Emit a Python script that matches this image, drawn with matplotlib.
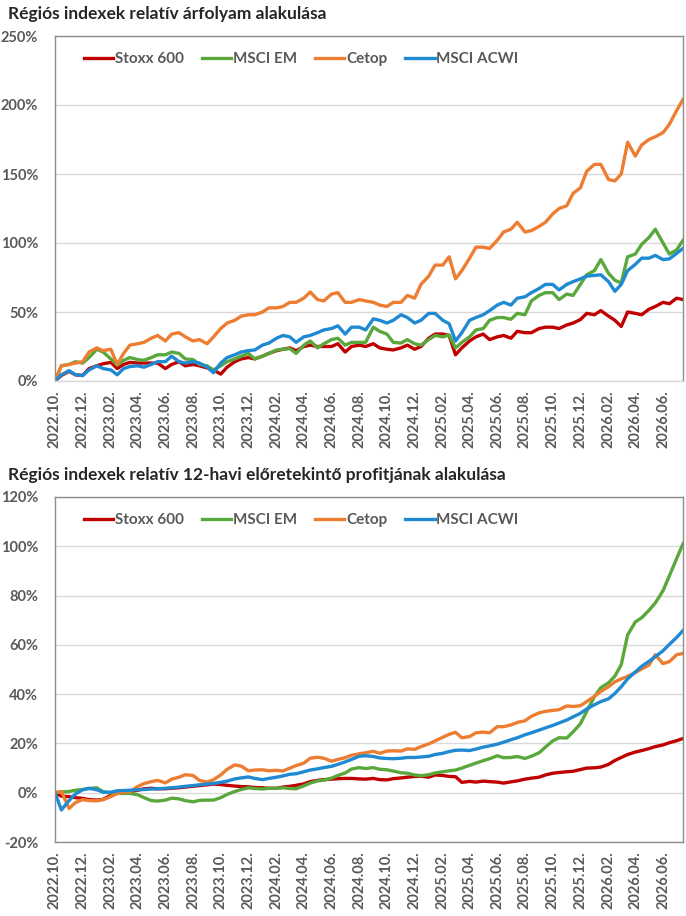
import pandas as pd
import matplotlib
matplotlib.use('Agg')
import matplotlib.pyplot as plt
import matplotlib.dates as mdates
from matplotlib.ticker import FuncFormatter, MultipleLocator

plt.rcParams['font.family'] = ['Lato', 'DejaVu Sans']

# semi-monthly observations, 2022.10 - 2026.07
dates = pd.date_range('2022-10-01', '2026-07-15', freq='SMS')

names = ['Stoxx 600', 'MSCI EM', 'Cetop', 'MSCI ACWI']
colors = ['#C00000', '#5AA83B', '#ED7D31', '#1F8AD2']

# relative price change (%)
stoxx_px = [0, 4, 7, 4.5, 4, 9, 11, 12.5, 13.5, 9,
            12, 13.5, 13, 13, 13, 13, 9, 12, 14, 11,
            12, 11, 9.5, 8, 5, 10, 14, 16, 17, 16,
            18, 20, 22, 23, 24, 22, 25, 26, 25, 25,
            25, 27, 21, 25, 26, 25, 27, 24, 23, 22.5,
            24, 26, 23, 25, 31, 34, 34, 33, 19, 24,
            29, 32, 34, 30, 32, 33, 31, 36, 35, 35,
            38, 39, 39, 38, 40.6, 42, 44.5, 49, 48, 51,
            47, 44, 39.5, 50, 49, 48, 52, 54, 57, 56,
            60, 59]
em_px = [0, 11, 12, 14, 13, 17, 23, 21, 16, 11.5,
         15, 17, 15.5, 15, 17, 19, 19, 21, 20, 16,
         15.5, 12, 11, 8, 11, 14, 16, 18, 20, 16,
         18, 20, 22.5, 23, 23.5, 20, 26, 29, 24, 27,
         30, 31, 26, 28, 28, 28, 39, 36, 34, 28,
         27.5, 30, 27, 26, 30, 33, 32, 33.3, 24, 28,
         32, 37, 38, 44, 46, 46, 44.7, 49, 48, 58,
         62, 64, 64, 59, 63, 62, 70, 77, 80, 88,
         78, 73, 71, 90, 92, 99, 104, 110, 100, 92,
         95, 102]
cetop_px = [0, 11, 12, 13, 14, 21, 24, 22, 23, 12,
            20, 26, 27, 28, 31, 33, 29, 34, 35, 32,
            29, 30, 27, 32, 38, 42, 44, 47, 48, 48,
            50, 53, 53, 54, 57, 57, 60, 64.5, 59, 58,
            63, 64, 57, 57, 59, 58, 57, 55, 54, 57,
            57, 62, 60, 70, 76, 84, 84, 90, 74, 80,
            89, 97, 97, 96, 102, 108, 110, 115, 108, 109,
            112, 115, 121, 125, 127, 136, 140, 152, 157, 157,
            146, 145, 150, 173, 163, 171, 175, 177, 180, 186,
            196, 204]
acwi_px = [0, 4.5, 7.5, 4.5, 4, 8, 11, 9, 8, 4.5,
           9, 10.5, 11, 10, 12, 14, 14, 18, 14, 13,
           14, 13, 10, 6, 13, 17, 19, 21, 22, 22.5,
           26, 27.5, 31, 33, 32, 28, 32, 33, 35, 37,
           38, 40, 34, 39, 39, 37, 45, 44, 42, 44,
           48, 46, 42, 44, 49, 49, 44, 41.5, 29, 35,
           44, 46, 48, 51, 55, 57, 55, 60, 61, 64,
           67, 70, 70, 66, 70, 72, 74, 76, 76.5, 77,
           72, 65, 70, 80, 84.5, 89, 89, 91, 88, 88.5,
           92.5, 96]

# relative 12m forward earnings change (%)
stoxx_eps = [0, -1.4, -1.6, -2, -2.3, -2.8, -3, -2.7, -1, -0.2,
             0.2, 0.4, 1, 1.6, 1.8, 1.6, 1.6, 1.8, 2, 2.3,
             2.6, 2.9, 3.2, 3.5, 3.3, 3, 2.7, 2.5, 2.4, 2.1,
             2, 1.8, 1.8, 2.3, 2.6, 3, 3.6, 4.5, 5, 5.3,
             5.5, 5.7, 5.8, 5.8, 5.6, 5.5, 5.8, 5.3, 5.2, 5.7,
             6, 6.3, 6.6, 6.7, 6.3, 7.2, 7, 6.6, 6.5, 4.2,
             4.6, 4.3, 4.7, 4.5, 4.3, 3.9, 4.4, 4.8, 5.5, 5.9,
             6.3, 7.2, 7.9, 8.2, 8.5, 8.7, 9.4, 10, 10.1, 10.4,
             11.5, 13.1, 14.3, 15.5, 16.5, 17.1, 17.9, 18.7, 19.4, 20.3,
             21.1, 22]
em_eps = [0, 0.3, 0.5, 1, 1.3, 1.7, 2, 0.4, -0.1, -0.3,
          -0.3, -0.3, -0.8, -2, -3.2, -3.4, -3, -2.2, -2.5, -3.2,
          -3.7, -3.1, -3, -3, -2, -0.7, 0.5, 1.3, 2, 1.7,
          1.5, 1.8, 1.8, 2, 1.7, 1.6, 2.8, 3.9, 4.8, 5.1,
          5.9, 7, 8, 9.6, 10.2, 9.8, 10.2, 9.5, 9.3, 8.8,
          8.1, 7.9, 7.2, 6.9, 7.3, 8, 8.5, 8.9, 9.2, 10,
          11.1, 12, 13, 13.8, 15, 14.2, 14.3, 14.7, 13.9, 14.8,
          16.2, 18.5, 21, 22.3, 22.2, 24.7, 28, 33, 39, 42.6,
          44.6, 47.3, 52, 64, 69.3, 71, 74, 77, 82, 88,
          95, 101]
cetop_eps = [0, 0.5, -6.4, -4, -2.8, -3.2, -3.3, -2.8, -1.6, -0.3,
             0.2, 0.4, 2.5, 3.7, 4.5, 5, 4, 5.5, 6.3, 7.3,
             7, 5, 4.3, 5.3, 7.2, 9.5, 11.3, 10.8, 8.9, 9.2,
             9.3, 8.9, 9.1, 8.8, 10, 11, 12, 14, 14.4, 14,
             12.8, 13.5, 14.2, 15.2, 15.8, 16.2, 16.8, 16, 16.9, 17,
             16.9, 17.8, 17.6, 18.7, 19.8, 21, 22.5, 23.7, 24.5, 22.3,
             22.8, 24.3, 24.6, 24.3, 26.8, 26.8, 27.5, 28.5, 29.2, 31,
             32.4, 33, 33.4, 33.7, 35.2, 35, 35.3, 37, 39.1, 41.1,
             43, 45, 46.2, 47.2, 48.8, 50.2, 51.8, 56, 52.4, 53.2,
             56, 56.5]
acwi_eps = [0, -7, -3.2, -0.5, 1.2, 1.8, 1.2, 0.2, 0.2, 0.8,
            0.9, 1, 1.2, 1.3, 1.5, 1.6, 1.8, 2, 2.3, 2.6,
            2.9, 3.2, 3.5, 3.8, 4.2, 4.7, 5.6, 6, 6.4, 5.8,
            5.3, 5.8, 6.3, 6.8, 7.5, 7.7, 8.5, 9.2, 9.7, 10.2,
            10.7, 11.5, 12.5, 13.5, 14.8, 15, 14.7, 14.1, 13.9, 13.8,
            14, 14.3, 14.3, 14.5, 14.8, 15.5, 16, 16.7, 17.2, 17.3,
            17.1, 17.7, 18.5, 19, 19.7, 20.5, 21.5, 22.3, 23.5, 24.3,
            25.4, 26.3, 27.3, 28.3, 29.5, 30.8, 32.2, 34, 35.7, 37,
            38.1, 40.3, 43, 46.2, 49, 51.3, 53.3, 55.2, 57.6, 60.2,
            63, 65.8]

titles = ['Régiós indexek relatív árfolyam alakulása',
          'Régiós indexek relatív 12-havi előretekintő profitjának alakulása']

TXT = '#595959'
GRID = '#D9D9D9'
FRAME = '#8C8C8C'

fig = plt.figure(figsize=(6.86, 9.16), dpi=100)
ax1 = fig.add_axes([55/686, 1-381/916, 628/686, 345/916])
ax2 = fig.add_axes([55/686, 1-842/916, 628/686, 345/916])


def style(ax, series, ylim, step, bottom_light):
    for vals, name, c in zip(series, names, colors):
        ax.plot(dates, vals, color=c, lw=2.4, label=name, solid_joinstyle='round')
    ax.set_xlim(dates[0], dates[-1])
    ax.set_ylim(*ylim)
    ax.yaxis.set_major_locator(MultipleLocator(step))
    ax.yaxis.set_major_formatter(FuncFormatter(lambda v, p: f'{v:.0f}%'))
    ax.xaxis.set_major_locator(mdates.MonthLocator(bymonth=[2, 4, 6, 8, 10, 12]))
    ax.xaxis.set_major_formatter(mdates.DateFormatter('%Y.%m.'))
    ax.grid(axis='y', color=GRID, lw=1)
    ax.set_axisbelow(True)
    ax.tick_params(axis='both', length=0, labelsize=10.5, labelcolor=TXT)
    ax.tick_params(axis='y', pad=12)
    ax.tick_params(axis='x', rotation=90, pad=7)
    for lab in ax.get_xticklabels() + ax.get_yticklabels():
        lab.set_fontweight('bold')
    for s in ax.spines.values():
        s.set_color(FRAME)
        s.set_linewidth(1)
    if bottom_light:
        ax.spines['bottom'].set_color(GRID)
    leg = ax.legend(loc='center left', bbox_to_anchor=(0.025, 0.933), ncol=4,
                    frameon=False, handlelength=1.9, handletextpad=0.1,
                    columnspacing=1.2, prop={'size': 11, 'weight': 'bold'})
    for t in leg.get_texts():
        t.set_color(TXT)


style(ax1, [stoxx_px, em_px, cetop_px, acwi_px], (0, 250), 50, True)
style(ax2, [stoxx_eps, em_eps, cetop_eps, acwi_eps], (-20, 120), 20, False)

fig.text(8/686, 1-14/916, titles[0], fontsize=12.5, fontweight='bold',
         color='#262626', va='center', ha='left')
fig.text(8/686, 1-475/916, titles[1], fontsize=12.5, fontweight='bold',
         color='#262626', va='center', ha='left')

fig.savefig('out.png', dpi=100)
